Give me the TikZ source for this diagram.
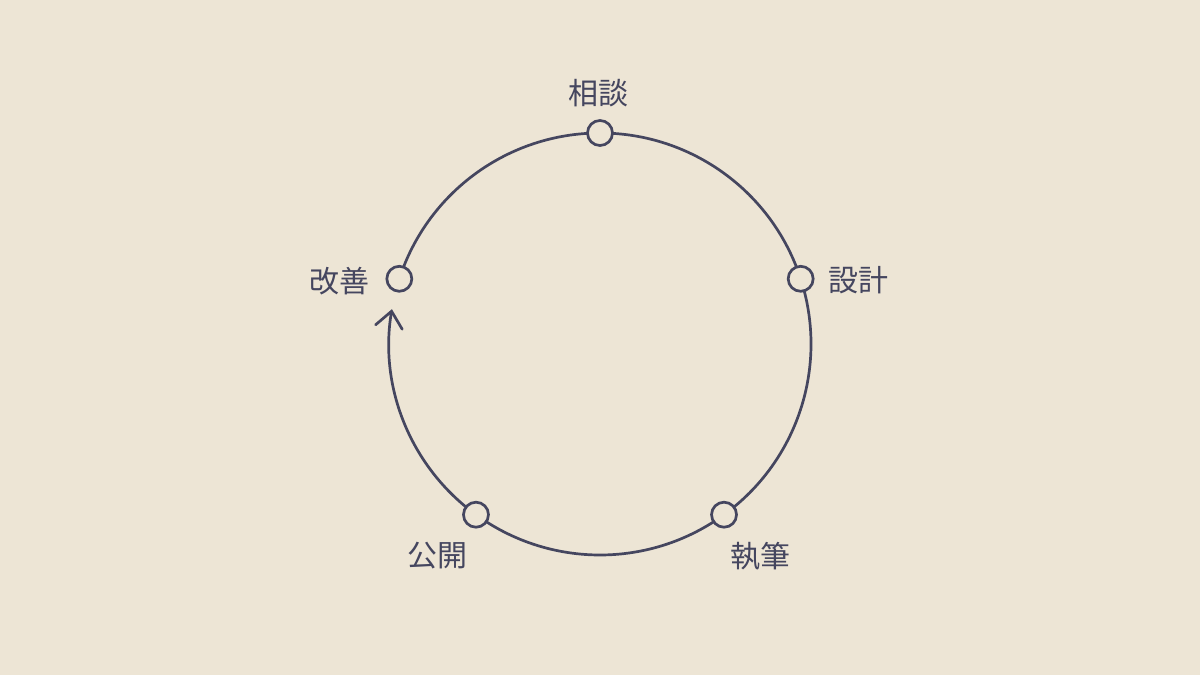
\documentclass[tikz,border=0pt]{standalone}
\usepackage{fontspec}
\setmainfont{Noto Sans CJK JP}
\usetikzlibrary{arrows.meta,backgrounds,calc}
\definecolor{bg}{HTML}{EDE5D5}
\definecolor{ink}{HTML}{45465F}
\tikzset{
  stage/.style={circle,draw=ink,fill=bg,line width=2.7pt,minimum size=25pt,inner sep=0pt},
  lbl/.style={text=ink,font=\fontsize{30}{32}\selectfont,inner sep=0pt},
  ring/.style={draw=ink,line width=2.7pt},
}
\begin{document}
\begin{tikzpicture}[x=1pt,y=1pt]
\useasboundingbox (0,0) rectangle (1200,675);
\coordinate (c) at (600,331);
\def\R{211}
\node[stage] (n1) at ($(c)+(90:\R)$) {};
\node[stage] (n2) at ($(c)+(18:\R)$) {};
\node[stage] (n3) at ($(c)+(-54:\R)$) {};
\node[stage] (n4) at ($(c)+(-126:\R)$) {};
\node[stage] (n5) at ($(c)+(162:\R)$) {};
\node[lbl] (t1) at (598,582) {相談};
\node[lbl] (t2) at (858,395) {設計};
\node[lbl] (t3) at (760,119) {執筆};
\node[lbl] (t4) at (437,119) {公開};
\node[lbl] (t5) at (339,394) {改善};
\begin{scope}[on background layer]
\fill[bg] (0,0) rectangle (1200,675);
\draw[ring] (n1.center) arc[start angle=90,end angle=18,radius=\R];
\draw[ring] (n2.center) arc[start angle=18,end angle=-54,radius=\R];
\draw[ring] (n3.center) arc[start angle=-54,end angle=-126,radius=\R];
\draw[ring] (n5.center) arc[start angle=162,end angle=90,radius=\R];
\draw[ring,-{Straight Barb[length=16pt,width=27pt,line cap=round]}] (n4.center) arc[start angle=234,end angle=170.5,radius=\R];
\end{scope}
\end{tikzpicture}
\end{document}
